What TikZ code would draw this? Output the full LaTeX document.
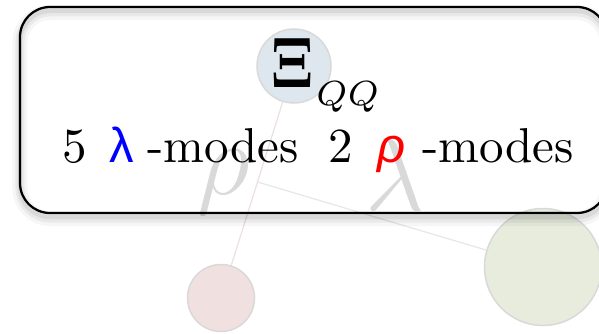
\documentclass[tikz,border=0pt]{standalone}
\usepackage[no-math]{fontspec}
\newfontfamily\greekfont{Liberation Sans}
\usetikzlibrary{calc, positioning}
\definecolor{quarkblue}{RGB}{222,231,237}
\definecolor{quarkred}{RGB}{240,224,224}
\definecolor{quarkgreen}{RGB}{231,236,221}
\definecolor{rholine}{RGB}{236,224,224}
\definecolor{lamline}{RGB}{232,230,230}
\tikzset{
  quark/.style={circle, draw=gray!30, line width=0.3pt, inner sep=0pt},
  jacobi/.style={line width=0.25pt},
  coordlbl/.style={text=gray!30, inner sep=0pt,
    font=\fontsize{21.5}{22}\selectfont},
  modebox/.style={draw=black, line width=0.45pt, rounded corners=6pt,
    inner sep=0pt,
    preaction={draw=black, line width=3pt, opacity=0.035,
      transform canvas={yshift=-1.1pt}},
    preaction={draw=black, line width=1.8pt, opacity=0.05,
      transform canvas={yshift=-1pt}},
    preaction={draw=black, line width=0.9pt, opacity=0.07,
      transform canvas={yshift=-0.8pt}}},
  modetxt/.style={inner sep=0pt, font=\fontsize{9.8}{12}\selectfont},
}

\begin{document}
\begin{tikzpicture}[x=0.2pt, y=-0.2pt]
  \useasboundingbox (0,0) rectangle (599,333);

  % faded Jacobi coordinates behind the box
  \node[quark, fill=quarkblue, minimum size=14.8pt] (q1) at (294,66) {};
  \node[quark, fill=quarkred, minimum size=13.4pt] (q2) at (221,298) {};
  \node[quark, fill=quarkgreen, minimum size=23.4pt] (q3) at (543,267) {};
  \coordinate (mid) at ($(q1.center)!0.5!(q2.center)$);

  \draw[jacobi, rholine] (q1) -- (q2);
  \draw[jacobi, lamline] (mid) -- (q3);

  \node[coordlbl] (rholbl) at (224,182) {$\rho$};
  \node[coordlbl] (lamlbl) at (395,174) {$\lambda$};

  % the box with the mode count
  \node[modebox, minimum width=117.4pt, minimum height=41.2pt]
       (box) at (313.5,110) {};

  \node[inner sep=0pt, anchor=base west] (xi) at (270,87)
       {\scalebox{0.78}[1]{\fontsize{13.5}{15}\selectfont$\mathbf{\Xi}$}};
  \node[inner sep=0pt, anchor=base west, font=\fontsize{7.4}{8}\selectfont]
       (qq) at ($(xi.base east)+(1,18)$) {$QQ$};

  \node[modetxt, anchor=base] (modes) at (318,162)
       {5\hspace{4.6pt}{\color{blue}\greekfont λ}\hspace{2.6pt}-modes\hspace{6pt}2\hspace{4.8pt}{\color{red}\greekfont\itshape ρ}\hspace{3.4pt}-modes};
\end{tikzpicture}
\end{document}
